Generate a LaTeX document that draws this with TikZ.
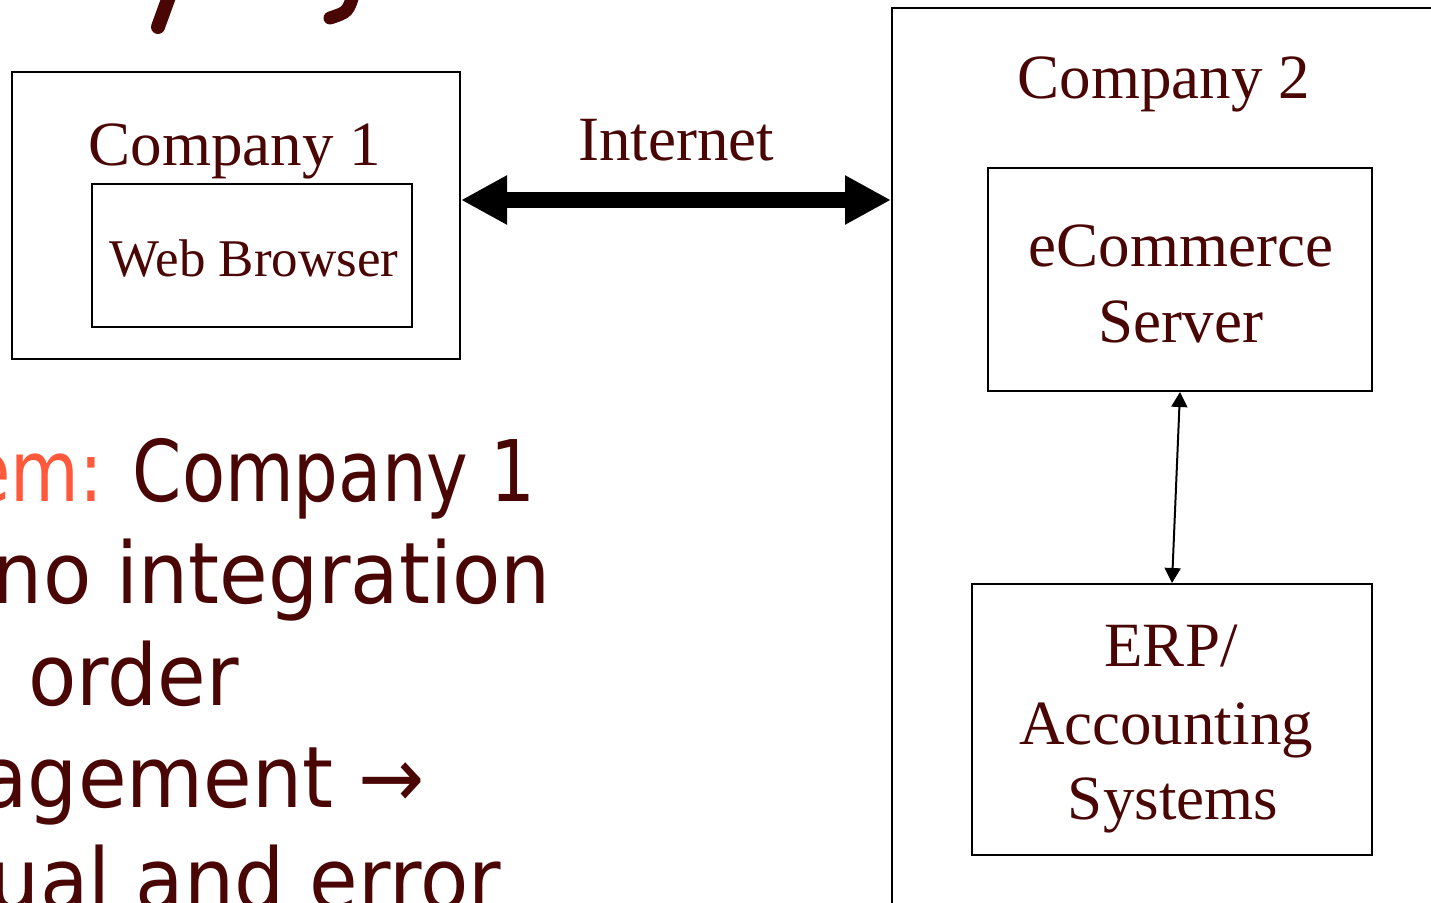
\documentclass[tikz,border=0pt]{standalone}
\usepackage{fontspec}
\setmainfont{Liberation Serif}
\newfontfamily\comicfont[FakeStretch=0.83]{DejaVu Sans}
\newfontfamily\comicwide[FakeStretch=0.93]{DejaVu Sans}
\usetikzlibrary{arrows.meta}
\definecolor{maroon}{HTML}{4A0505}
\definecolor{accent}{HTML}{FF583B}
\begin{document}
\begin{tikzpicture}[x=1pt,y=-1pt,
  box/.style={draw=black, line width=2pt, inner sep=0pt},
  lbl/.style={text=maroon, font=\fontsize{63}{76}\selectfont, anchor=base, inner sep=0pt},
  comic/.style={text=maroon, font=\comicfont\fontsize{85}{102}\selectfont, inner sep=0pt},
  comicw/.style={text=maroon, font=\comicwide\fontsize{85}{102}\selectfont, inner sep=0pt},
  bigarrow/.style={line width=16pt, {Triangle[length=46pt,width=46pt]}-{Triangle[length=46pt,width=46pt]}},
  smallarrow/.style={line width=2pt, {Triangle[length=15pt,width=16pt]}-{Triangle[length=15pt,width=16pt]}}]
\useasboundingbox (0,0) rectangle (1431,902);
\clip (0,0) rectangle (1431,902);

% cut-off descenders of the title above
\draw[maroon, line width=14pt, line cap=round] (170,-6) -- (158,27);
\draw[maroon, line width=13pt, line cap=round] (354,-8) .. controls (348,12) .. (330,18);

% Company 1
\node[box, minimum width=448pt, minimum height=287pt] (c1) at (236,215.5) {};
\node[lbl] (c1t) at (235,165) {Company 1};
\node[box, minimum width=320pt, minimum height=143pt] (wb) at (252,255.5) {};
\node[lbl, font=\fontsize{53}{60}\selectfont] (wbt) at (254,276) {Web Browser};

% Company 2
\node[box, minimum width=616pt, minimum height=984pt] (c2) at (1200,500) {};
\node[lbl] (c2t) at (1164,98) {Company 2};
\node[box, minimum width=384pt, minimum height=223pt] (eco) at (1180,279.5) {};
\node[lbl] (ecot1) at (1181,266) {eCommerce};
\node[lbl] (ecot2) at (1181,342) {Server};
\node[box, minimum width=400pt, minimum height=271pt] (erp) at (1172,719.5) {};
\node[lbl] (erpt1) at (1171,666) {ERP/};
\node[lbl] (erpt2) at (1166,744) {Accounting};
\node[lbl] (erpt3) at (1173,819) {Systems};

% Internet
\coordinate (ay) at (0,200);
\draw[bigarrow] (c1.east |- ay) -- (c2.west |- ay);
\node[lbl] (inet) at (676,160) {Internet};
\draw[smallarrow] (eco.south) -- (erp.north);

% left text (cut off)
\node[comic, anchor=base east] (l1) at (536,501) {\textcolor{accent}{em:} Company 1};
\node[comicw, anchor=base east] (l2) at (551,603) {no integration};
\node[comicw, anchor=base west] (l3) at (28,705) {order};
\node[comicw, anchor=base east] (l4) at (425,807) {agement →};
\node[comicw, anchor=base east] (l5) at (501,909) {ual and error};
\end{tikzpicture}
\end{document}
